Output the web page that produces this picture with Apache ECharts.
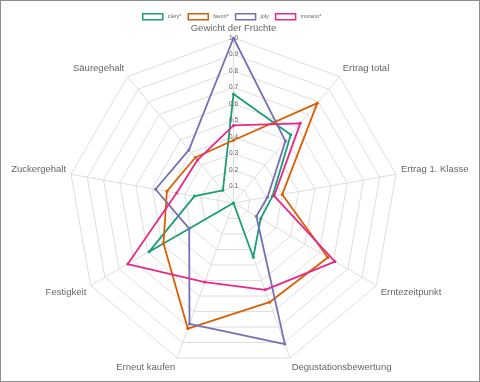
<!DOCTYPE html>
<html>
<head>
<meta charset="utf-8">
<script src="https://cdn.jsdelivr.net/npm/echarts@6/dist/echarts.min.js"></script>
<style>
html,body{margin:0;padding:0;background:#fff;}
#c{width:478px;height:380px;border:1px solid #8c8c8c;}
</style>
</head>
<body>
<div id="c"></div>
<script>
// Indicators in clockwise order starting at the top
const indicators = ['Gewicht der Früchte','Ertrag total','Ertrag 1. Klasse','Erntezeitpunkt','Degustationsbewertung','Erneut kaufen','Festigkeit','Zuckergehalt','Säuregehalt'];
const seriesNames = ['cléry*','favori*','joly','murano*'];
const clery  = [0.66, 0.54, 0.24, 0.19, 0.35, 0.00, 0.59, 0.24, 0.10];
const favori = [0.38, 0.79, 0.30, 0.66, 0.64, 0.81, 0.49, 0.41, 0.36];
const joly   = [1.00, 0.49, 0.21, 0.16, 0.91, 0.78, 0.31, 0.48, 0.42];
const murano = [0.47, 0.63, 0.25, 0.71, 0.56, 0.51, 0.74, 0.35, 0.34];
const colors = ['#1b9e77','#d95f02','#7570b3','#e7298a'];
const tickValues = [0.1,0.2,0.3,0.4,0.5,0.6,0.7,0.8,0.9,1.0];

// name label vertical placement style per indicator (clockwise order)
const nameStyleKeys = ['t','u','m','l','b','b','l','m','u'];

// ECharts radar runs counter-clockwise: keep first, reverse the rest
const reorder = a => [a[0]].concat(a.slice(1).reverse());
const allValues = [clery, favori, joly, murano];
const styleByName = {};
indicators.forEach((n,i)=>{ styleByName[n] = nameStyleKeys[i]; });

const chart = echarts.init(document.getElementById('c'), null, {renderer:'canvas'});
const center = [232.5, 202];
const radius = 165;
const nameFont = {color:'#666', fontSize:9.5, fontFamily:'Liberation Sans, Arial'};
chart.setOption({
  animation:false,
  color: colors,
  legend:{
    top: 7, left: 136,
    itemWidth: 20, itemHeight: 6, itemGap: 6,
    icon: 'rect',
    textStyle:{fontSize:5.5, color:'#666', fontFamily:'Liberation Sans, Arial'},
    data: seriesNames.map((n,i)=>({name:n, itemStyle:{color:'#fff', borderColor:colors[i], borderWidth:1.5}}))
  },
  radar:{
    center: center,
    radius: radius,
    startAngle: 90,
    shape:'polygon',
    splitNumber: 10,
    nameGap: 5,
    axisName:{
      color:'#666', fontSize:9.5, fontFamily:'Liberation Sans, Arial',
      formatter: name => '{' + styleByName[name] + '|' + name + '}',
      rich:{
        t: Object.assign({}, nameFont),
        u: Object.assign({padding:[0,0,8,0]}, nameFont),
        m: Object.assign({padding:[0,0,8,0]}, nameFont),
        l: Object.assign({padding:[8,0,0,0]}, nameFont),
        b: Object.assign({padding:[10,0,0,0]}, nameFont)
      }
    },
    splitLine:{lineStyle:{color:'#dedede', width:1}},
    splitArea:{show:false},
    axisLine:{lineStyle:{color:'#dedede', width:1}},
    axisTick:{show:false},
    axisLabel:{show:false},
    indicator: reorder(indicators).map(n=>({name:n, min:0, max:1}))
  },
  polar:{center: center, radius: radius},
  angleAxis:{show:false, min:0, max:360, startAngle:90},
  radiusAxis:{
    min:0, max:1, interval:0.1,
    axisLine:{show:false}, axisTick:{show:false}, splitLine:{show:false},
    axisLabel:{show:true, margin:0, align:'center', verticalAlign:'middle', fontSize:6.5, color:'#5f5f5f',
      fontFamily:'Liberation Sans, Arial', showMinLabel:false,
      formatter: v => tickValues.indexOf(Math.round(v*10)/10) >= 0 ? (Math.round(v*10)/10).toFixed(1) : ''}
  },
  series:[{
    type:'radar',
    symbol:'circle',
    symbolSize:3,
    data: allValues.map((vals,i)=>({
      name: seriesNames[i],
      value: reorder(vals),
      lineStyle:{color:colors[i], width:1.8},
      itemStyle:{color:colors[i]}
    }))
  }]
});
</script>
</body>
</html>
